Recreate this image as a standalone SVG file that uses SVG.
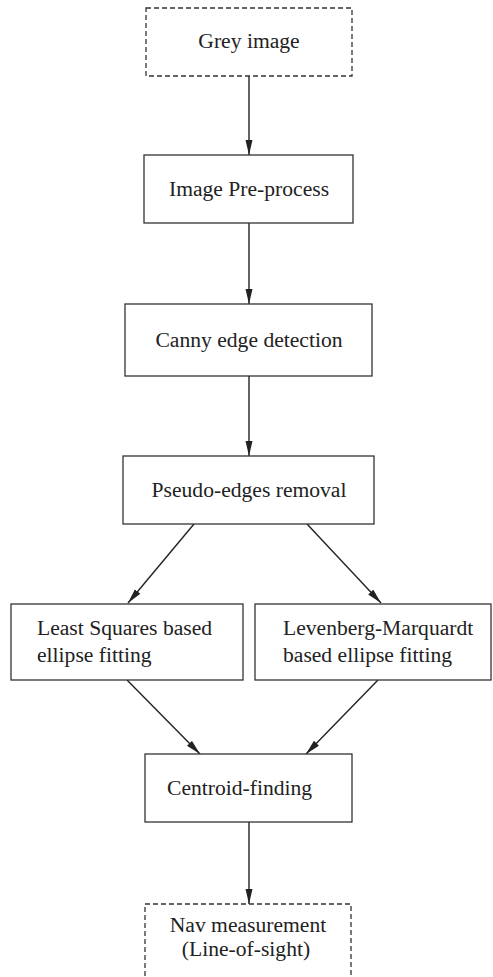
<svg xmlns="http://www.w3.org/2000/svg" width="493" height="977" viewBox="0 0 493 977">
<style>
.box{fill:#fff;stroke:#333;stroke-width:1.3}
.dash{fill:#fff;stroke:#333;stroke-width:1.3;stroke-dasharray:5 3}
.t{font-family:"Liberation Serif","Times New Roman",serif;font-size:21.6px;fill:#222}
.c{text-anchor:middle}
.edge{stroke:#222;stroke-width:1.4;fill:none;marker-end:url(#ah)}
</style>
<defs>
<marker id="ah" markerWidth="16" markerHeight="8" refX="15" refY="3.5" orient="auto" markerUnits="userSpaceOnUse">
<path d="M0,0 L15,3.5 L0,7 Z" fill="#222"/>
</marker>
</defs>
<rect width="493" height="977" fill="#fff"/>
<g id="connectors">
<line class="edge" x1="249" y1="76" x2="249" y2="155"/>
<line class="edge" x1="249" y1="223" x2="249" y2="304"/>
<line class="edge" x1="249" y1="376" x2="249" y2="456"/>
<line class="edge" x1="194" y1="524" x2="128" y2="603"/>
<line class="edge" x1="307" y1="524" x2="381" y2="603"/>
<line class="edge" x1="127" y1="680" x2="200" y2="754"/>
<line class="edge" x1="378" y1="680" x2="306" y2="754"/>
<line class="edge" x1="249" y1="822" x2="249" y2="904"/>
</g>
<g id="grey-image">
<rect class="dash" x="146" y="8" width="206" height="68"/>
<text class="t c" x="249" y="48">Grey image</text>
</g>
<g id="pre-process">
<rect class="box" x="144" y="155" width="209" height="68"/>
<text class="t c" x="249" y="196">Image Pre-process</text>
</g>
<g id="canny">
<rect class="box" x="125" y="304" width="247" height="72"/>
<text class="t c" x="249" y="347">Canny edge detection</text>
</g>
<g id="pseudo-edges">
<rect class="box" x="123" y="456" width="251" height="68"/>
<text class="t c" x="249" y="497">Pseudo-edges removal</text>
</g>
<g id="least-squares">
<rect class="box" x="11" y="604" width="232" height="76"/>
<text class="t" x="37" y="635">Least Squares based</text>
<text class="t" x="37" y="662">ellipse fitting</text>
</g>
<g id="levenberg">
<rect class="box" x="255" y="604" width="236" height="76"/>
<text class="t" x="283" y="635">Levenberg-Marquardt</text>
<text class="t" x="283" y="662">based ellipse fitting</text>
</g>
<g id="centroid">
<rect class="box" x="145" y="754" width="207" height="68"/>
<text class="t" x="167" y="795">Centroid-finding</text>
</g>
<g id="nav">
<rect class="dash" x="145" y="904" width="206" height="90"/>
<text class="t c" x="248" y="932">Nav measurement</text>
<text class="t c" x="246" y="956">(Line-of-sight)</text>
</g>
</svg>
